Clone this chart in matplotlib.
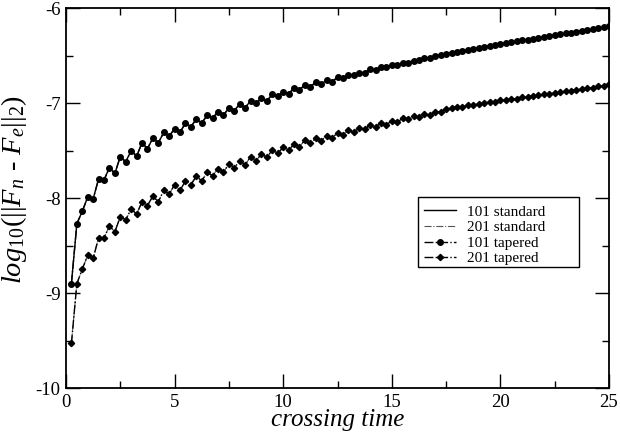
import numpy as np
import matplotlib as mpl
mpl.use('Agg')
import matplotlib.pyplot as plt
from matplotlib.ticker import MultipleLocator
from matplotlib.patches import Rectangle

# crossing time samples
t = np.arange(1, 101) * 0.25

# log10 error, 101 points
err_101 = [
  -8.90, -8.27, -8.14, -7.99, -8.01, -7.80, -7.81, -7.68, -7.74, -7.565,
  -7.62, -7.50, -7.56, -7.42, -7.48, -7.37, -7.42, -7.31, -7.35, -7.27,
  -7.31, -7.21, -7.25, -7.17, -7.21, -7.13, -7.16, -7.09, -7.13, -7.05,
  -7.08, -7.01, -7.05, -6.976, -7.00, -6.95, -6.976, -6.91, -6.93, -6.88,
  -6.90, -6.845, -6.86, -6.81, -6.83, -6.78, -6.80, -6.76, -6.775, -6.73,
  -6.74, -6.70, -6.71, -6.68, -6.68, -6.645, -6.65, -6.625, -6.625, -6.60,
  -6.60, -6.575, -6.575, -6.555, -6.547, -6.53, -6.523, -6.505, -6.495, -6.484,
  -6.47, -6.46, -6.45, -6.44, -6.428, -6.418, -6.408, -6.398, -6.388, -6.378,
  -6.368, -6.359, -6.35, -6.341, -6.332, -6.323, -6.314, -6.305, -6.296, -6.287,
  -6.277, -6.268, -6.259, -6.25, -6.241, -6.232, -6.223, -6.214, -6.205, -6.192,
]

# log10 error, 201 points
err_201 = [
  -9.53, -8.90, -8.75, -8.60, -8.635, -8.42, -8.42, -8.295, -8.355, -8.197,
  -8.23, -8.115, -8.17, -8.04, -8.08, -7.98, -8.04, -7.92, -7.96, -7.86,
  -7.92, -7.82, -7.86, -7.77, -7.82, -7.73, -7.765, -7.69, -7.73, -7.64,
  -7.68, -7.61, -7.65, -7.565, -7.607, -7.537, -7.572, -7.495, -7.53, -7.467,
  -7.495, -7.435, -7.46, -7.39, -7.425, -7.372, -7.397, -7.344, -7.372, -7.312,
  -7.337, -7.284, -7.309, -7.26, -7.277, -7.232, -7.256, -7.207, -7.232, -7.186,
  -7.204, -7.16, -7.168, -7.137, -7.151, -7.116, -7.126, -7.09, -7.09, -7.067,
  -7.056, -7.042, -7.040, -7.026, -7.022, -7.008, -7.005, -6.99, -6.988, -6.973,
  -6.971, -6.956, -6.954, -6.94, -6.938, -6.923, -6.921, -6.907, -6.905, -6.891,
  -6.888, -6.874, -6.872, -6.858, -6.856, -6.842, -6.838, -6.826, -6.822, -6.80,
]

labels = ['101 standard', '201 standard', '101 tapered', '201 tapered']

plt.rcParams['font.family'] = ['Liberation Serif', 'DejaVu Serif']
plt.rcParams['mathtext.fontset'] = 'custom'
plt.rcParams['mathtext.rm'] = 'Liberation Serif'
plt.rcParams['mathtext.it'] = 'Liberation Serif:italic'
plt.rcParams['axes.unicode_minus'] = False

W, H = 620, 436
fig = plt.figure(figsize=(W/100, H/100), dpi=100)
ax = fig.add_axes([66/W, 1-388/H, 543/W, 380/H])

ax.plot(t, err_101, '-', color='black', lw=1.0, label=labels[0])
ax.plot(t, err_201, '-.', color='#555555', lw=0.8, label=labels[1])
ax.plot(t, err_101, '-.', color='black', lw=1.0, marker='o', ms=4.0, label=labels[2])
ax.plot(t, err_201, '-.', color='black', lw=1.0, marker='D', ms=3.2, label=labels[3])

ax.set_xlim(0, 25)
ax.set_ylim(-10, -6)
ax.xaxis.set_major_locator(MultipleLocator(5))
ax.xaxis.set_minor_locator(MultipleLocator(2.5))
ax.yaxis.set_major_locator(MultipleLocator(1))
ax.yaxis.set_minor_locator(MultipleLocator(0.5))
ax.tick_params(which='both', direction='in', top=True, right=True, width=1.0, labelsize=13.5)
ax.tick_params(which='major', length=10, pad=4)
ax.tick_params(which='minor', length=5)
for s in ax.spines.values():
  s.set_linewidth(1.3)

ax.set_xlabel('crossing time', fontsize=18, style='italic', labelpad=-1)
ax.set_ylabel(r'$log_{10}(||F_n$ - $F_e||_2)$', fontsize=20.5)
ax.yaxis.set_label_coords((29-66)/543, (388-190)/380)

leg = ax.legend(loc='upper left', bbox_to_anchor=((418-66)/543, (388-199)/380), fontsize=11,
                frameon=False, handlelength=2.1, handletextpad=0.7, labelspacing=0.12,
                borderpad=0.4, borderaxespad=0)
leg.set_zorder(6)

# legend box, xmgrace style (wider than the text)
box = Rectangle((418/W, 1-267/H), (579-418)/W, (267-197)/H, transform=fig.transFigure,
                facecolor='white', edgecolor='black', lw=1.0, zorder=5, clip_on=False)
ax.add_artist(box)

plt.savefig('out.png', dpi=100)
